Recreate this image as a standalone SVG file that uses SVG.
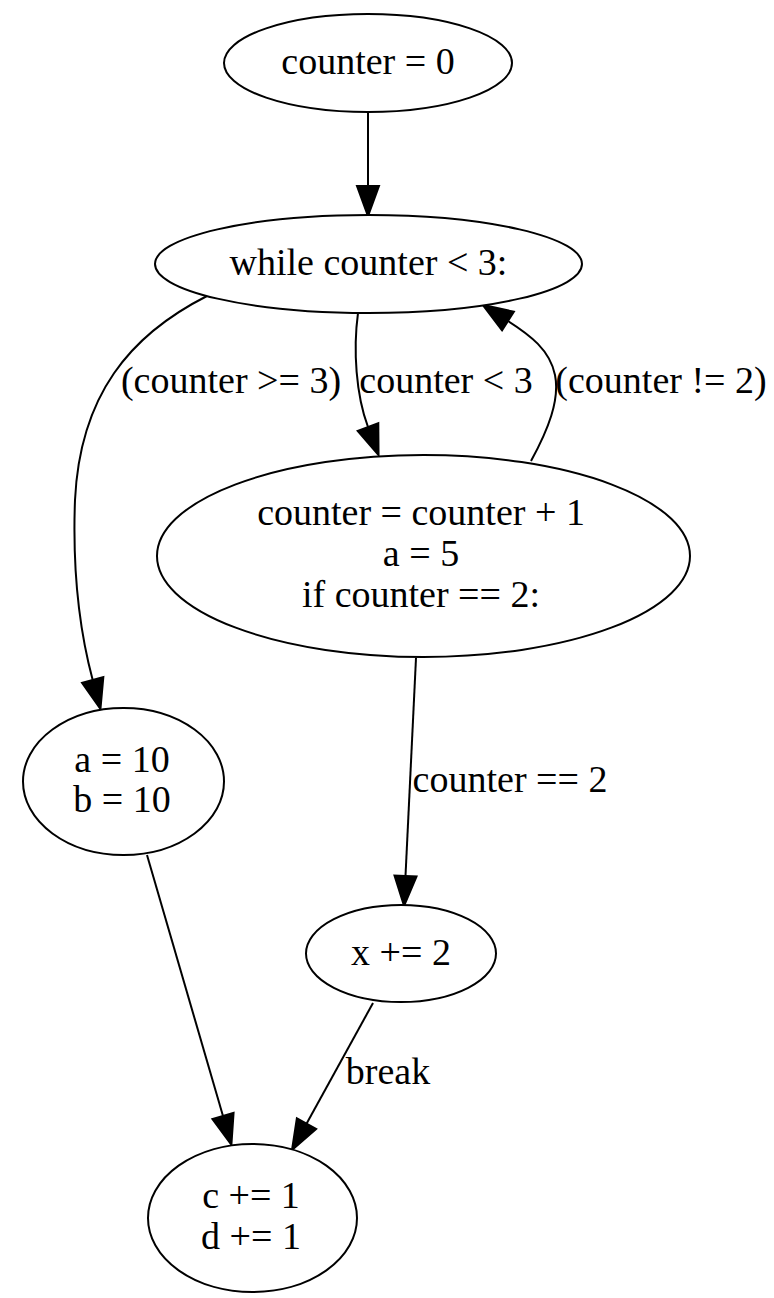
<svg xmlns="http://www.w3.org/2000/svg" width="774" height="1298" viewBox="0 0 774 1298">
<style>
.n ellipse{fill:#fff;stroke:#000;stroke-width:2}
text{font-family:"Liberation Serif","Times New Roman",serif;font-size:38px;fill:#000;text-anchor:middle}
.e path{fill:none;stroke:#000;stroke-width:2;marker-end:url(#ah)}
</style>
<defs>
<marker id="ah" markerUnits="userSpaceOnUse" markerWidth="32" markerHeight="24" refX="0" refY="11" orient="auto" overflow="visible">
<path d="M0,0 L30,11 L0,22 Z" fill="#000" stroke="#000" stroke-width="2"/>
</marker>
</defs>
<rect width="774" height="1298" fill="#fff"/>
<g id="connectors" class="e">
<path d="M368,112 L368,186"/>
<path d="M207,296 C130,335 80,395 75,500 C72,580 82,640 92.7,680"/>
<path d="M358,313 C353,350 356,395 368,427"/>
<path d="M531,461 C548,430 560,400 555,375 C550,350 530,335 508,321"/>
<path d="M416,658 L405.5,876"/>
<path d="M147,855 L223,1116"/>
<path d="M373,1003 L306.5,1123.7"/>
</g>
<g id="edge-labels">
<text x="231" y="393">(counter &gt;= 3)</text>
<text x="446" y="393">counter &lt; 3</text>
<text x="661" y="393">(counter != 2)</text>
<text x="510" y="792">counter == 2</text>
<text x="388" y="1084">break</text>
</g>
<g id="n1" class="n"><ellipse cx="368" cy="63" rx="144" ry="49"/><text x="368" y="74">counter = 0</text></g>
<g id="n2" class="n"><ellipse cx="368.5" cy="264" rx="213.5" ry="49"/><text x="368.5" y="275">while counter &lt; 3:</text></g>
<g id="n3" class="n"><ellipse cx="423.5" cy="556" rx="266.5" ry="101"/><text x="421" y="525">counter = counter + 1</text><text x="421" y="566">a = 5</text><text x="421" y="607">if counter == 2:</text></g>
<g id="n4" class="n"><ellipse cx="123.5" cy="781.5" rx="100.5" ry="73.5"/><text x="122" y="772">a = 10</text><text x="122" y="812">b = 10</text></g>
<g id="n5" class="n"><ellipse cx="401" cy="953.5" rx="95" ry="48.5"/><text x="401" y="965">x += 2</text></g>
<g id="n6" class="n"><ellipse cx="252.5" cy="1218" rx="104.5" ry="74"/><text x="251" y="1208">c += 1</text><text x="251" y="1249">d += 1</text></g>
</svg>
